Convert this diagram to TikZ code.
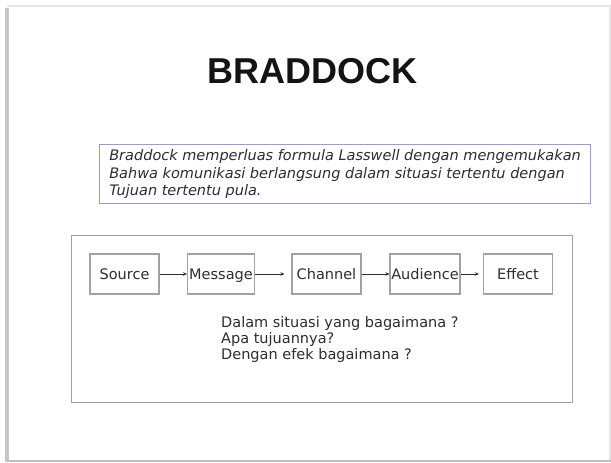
\documentclass[tikz,border=0pt]{standalone}
\usepackage{fontspec}
\setmainfont{DejaVu Sans}
\newfontfamily\titlefont{Liberation Sans}
\usetikzlibrary{arrows.meta}
\definecolor{boxgray}{HTML}{A2A2A2}
\definecolor{txtgray}{HTML}{2E2E2E}
\definecolor{lav}{HTML}{9A9AD6}
\tikzset{
  stagebox/.style={draw=boxgray, line width=1.2pt, minimum width=69pt, minimum height=40pt,
    inner sep=1pt, text height=11.5pt, text depth=0pt, text=txtgray, font=\fontsize{14.5}{17}\selectfont},
  flow/.style={draw=txtgray, line width=0.9pt, -{Stealth[length=4pt,width=3.6pt]}},
}
\begin{document}
\begin{tikzpicture}[x=1pt,y=-1pt]
\useasboundingbox (0,0) rectangle (611,463);
% slide frame
\fill[white] (0,0) rectangle (611,463);
\fill[gray!18] (7,4.5) rectangle (611,6.5);
\fill[gray!20] (608.5,5) rectangle (610.5,462);
\fill[gray!45] (4.5,8) rectangle (9,462);
\fill[gray!50] (7,459.5) rectangle (611,462);
\fill[white] (9,6.5) rectangle (608.5,459.5);
% title
\node[anchor=base, inner sep=0, font=\titlefont\bfseries\fontsize{36}{40}\selectfont, text=black!92] (title) at (312.5,83) {BRADDOCK};
% description box
\node[draw=lav, line width=1.1pt, anchor=north west, minimum width=491pt, minimum height=59pt,
  inner xsep=6pt, inner ysep=4pt, align=left, text=txtgray,
  font=\itshape\fontsize{14.5}{17.5}\selectfont] (desc) at (99,144)
  {Braddock memperluas formula Lasswell dengan mengemukakan\\
   Bahwa komunikasi berlangsung dalam situasi tertentu dengan\\
   Tujuan tertentu pula.};
% outer frame
\node[draw=boxgray, line width=1.2pt, anchor=north west, minimum width=501pt, minimum height=167pt, inner sep=0] (frame) at (71,235) {};
% stages
\node[stagebox] (src) at (124.5,274) {Source};
\node[stagebox, minimum width=67pt] (msg) at (221,274) {Message};
\node[stagebox] (chn) at (326.5,274) {Channel};
\node[stagebox, minimum width=70pt] (aud) at (425,274) {Audience};
\node[stagebox] (eff) at (518,274) {Effect};
\draw[flow] (src) -- (msg);
\draw[flow, shorten >=7pt] (msg) -- (chn);
\draw[flow] (chn) -- (aud);
\draw[flow, shorten >=4pt] (aud) -- (eff);
% questions
\node[anchor=north west, inner sep=0, align=left, text=txtgray, font=\fontsize{14.5}{16}\selectfont] (q) at (221,316)
  {Dalam situasi yang bagaimana ?\\
   Apa tujuannya?\\
   Dengan efek bagaimana ?};
\end{tikzpicture}
\end{document}
